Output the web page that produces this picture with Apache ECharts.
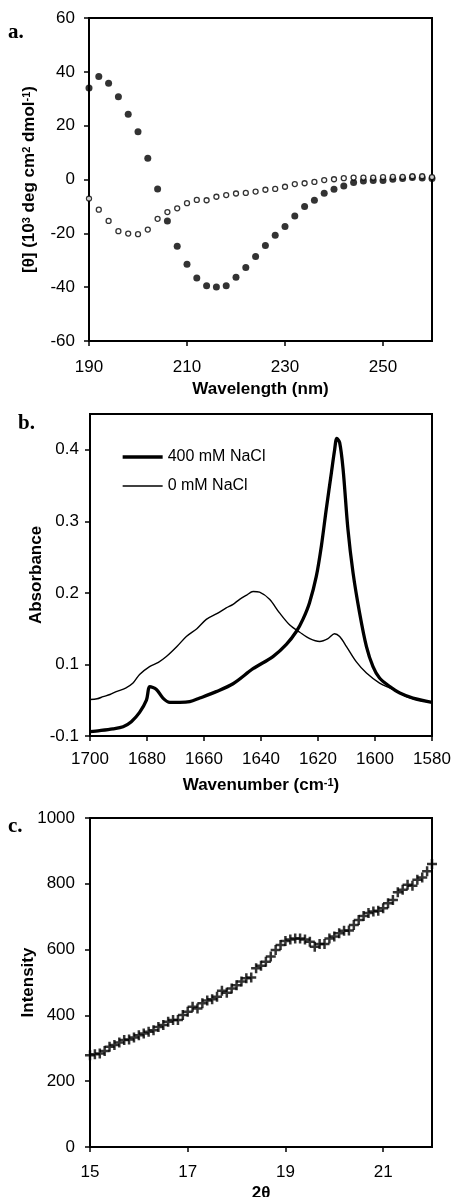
<!DOCTYPE html>
<html>
<head>
<meta charset="utf-8">
<script src="https://cdn.jsdelivr.net/npm/echarts@6/dist/echarts.min.js"></script>
<style>
  html, body { margin: 0; padding: 0; background: #fff; }
  #chart { width: 451px; height: 1197px; }
</style>
</head>
<body>
<div id="chart"></div>
<script>
// panel a: CD spectra (wavelength nm, [θ] x10^3)
const cdWave = [190, 192, 194, 196, 198, 200, 202, 204, 206, 208, 210, 212, 214, 216, 218, 220, 222, 224,
  226, 228, 230, 232, 234, 236, 238, 240, 242, 244, 246, 248, 250, 252, 254, 256, 258, 260];
const cdFilled = [34.0, 38.3, 35.8, 30.7, 24.2, 17.7, 7.9, -3.5, -15.4, -24.8, -31.5, -36.6, -39.5, -39.9, -39.5,
  -36.3, -32.7, -28.6, -24.5, -20.7, -17.5, -13.6, -10.0, -7.7, -5.1, -3.6, -2.4, -1.1, -0.6, -0.4, -0.4,
  0.1, 0.4, 0.7, 0.6, 0.4];
const cdOpen = [-7.1, -11.2, -15.4, -19.2, -20.1, -20.3, -18.6, -14.6, -12.1, -10.7, -8.8, -7.6, -7.7, -6.4, -5.8,
  -5.2, -5.0, -4.5, -3.8, -3.5, -2.7, -1.7, -1.4, -0.9, -0.2, 0.1, 0.5, 0.7, 0.7, 0.7, 0.9,
  1.0, 1.0, 1.2, 1.2, 0.9];
const cdXTicks = [190, 210, 230, 250];

// panel b: FTIR spectra
const wn400 = [1700, 1696.6, 1692, 1688.4, 1685.5, 1682.6, 1680.2, 1679, 1676.7, 1674.4, 1672, 1668.5, 1665,
  1661.5, 1655.7, 1649.8, 1642.8, 1635.8, 1631.1, 1627.6, 1625.3, 1623, 1620.6, 1618.8, 1617.1, 1615.3,
  1614.2, 1613.4, 1612.4, 1611.2, 1609.5, 1607.7, 1605.4, 1603, 1600.7, 1598.4, 1594.8, 1591.3, 1586.7, 1580];
const abs400 = [0.006, 0.0075, 0.010, 0.013, 0.020, 0.033, 0.050, 0.069, 0.065, 0.053, 0.047, 0.047, 0.048,
  0.053, 0.062, 0.073, 0.094, 0.111, 0.128, 0.146, 0.163, 0.186, 0.223, 0.266, 0.317, 0.368,
  0.399, 0.416, 0.410, 0.373, 0.289, 0.228, 0.172, 0.125, 0.097, 0.081, 0.069, 0.060, 0.053, 0.047];
const wn0 = [1700, 1697.5, 1695.4, 1693, 1690.8, 1687.5, 1684.9, 1682.6, 1679.1, 1676, 1673.2, 1669.5, 1666.2,
  1662.5, 1659.2, 1655.5, 1652.2, 1649.8, 1647.5, 1645, 1642.8, 1640.5, 1637, 1633.5, 1629.9, 1626.4,
  1622.9, 1619.4, 1616.5, 1614.2, 1612.4, 1610, 1606.6, 1603, 1598.4, 1593.7, 1589, 1584.3, 1580];
const abs0 = [0.051, 0.052, 0.055, 0.058, 0.062, 0.067, 0.074, 0.086, 0.097, 0.103, 0.111, 0.125, 0.139,
  0.150, 0.163, 0.171, 0.179, 0.184, 0.191, 0.197, 0.202, 0.201, 0.191, 0.172, 0.155, 0.145,
  0.136, 0.132, 0.136, 0.143, 0.139, 0.125, 0.104, 0.088, 0.074, 0.065, 0.055, 0.050, 0.047];
const absTickVals = [0, 0.1, 0.2, 0.3, 0.4];
const absTickLabels = ['-0.1', '0.1', '0.2', '0.3', '0.4'];

// panel c: XRD
const xrdTheta = [15.0, 15.1, 15.2, 15.3, 15.4, 15.5, 15.6, 15.7, 15.8, 15.9, 16.0, 16.1, 16.2, 16.3, 16.4,
  16.5, 16.6, 16.7, 16.8, 16.9, 17.0, 17.1, 17.2, 17.3, 17.4, 17.5, 17.6, 17.7, 17.8, 17.9, 18.0, 18.1,
  18.2, 18.3, 18.4, 18.5, 18.6, 18.7, 18.8, 18.9, 19.0, 19.1, 19.2, 19.3, 19.4, 19.5, 19.6, 19.7, 19.8,
  19.9, 20.0, 20.1, 20.2, 20.3, 20.4, 20.5, 20.6, 20.7, 20.8, 20.9, 21.0, 21.1, 21.2, 21.3, 21.4, 21.5,
  21.6, 21.7, 21.8, 21.9, 22.0];
const xrdInt = [279, 282, 284, 292, 305, 310, 318, 325, 327, 333, 340, 345, 350, 355, 365,
  371, 381, 386, 386, 401, 411, 426, 421, 437, 445, 449, 457, 475, 469, 482, 492, 503,
  513, 515, 543, 551, 563, 579, 599, 614, 626, 631, 634, 634, 631, 624, 609, 617, 617,
  634, 640, 650, 657, 658, 675, 690, 702, 711, 716, 718, 726, 741, 751, 774, 782, 797,
  794, 812, 819, 838, 860];
const xrdXTicks = [15, 17, 19, 21];

const FONT = '"Liberation Sans", Arial, sans-serif';
const SERIF = 'bold 21px "Liberation Serif", "Times New Roman", serif';
const BLACK = '#000';

const lineAxis = { show: true, onZero: false, lineStyle: { color: BLACK, width: 2 } };
const tick = (len) => ({ show: true, inside: false, length: len, lineStyle: { color: BLACK, width: 1.5 } });
// plain number labels, no thousands separator
const label = (margin) => ({ color: BLACK, fontSize: 17, fontFamily: FONT, margin: margin, formatter: (v) => String(v) });
const nameStyle = {
    color: BLACK, fontSize: 17, fontWeight: 'bold', fontFamily: FONT,
    rich: { sup: { fontSize: 11, fontWeight: 'bold', fontFamily: FONT, color: BLACK, verticalAlign: 'top', lineHeight: 10 } }
};
// outerBoundsMode none: keep the grids exactly where they are placed
const gridBox = { show: true, borderColor: BLACK, borderWidth: 2, backgroundColor: 'transparent', outerBoundsMode: 'none' };

const chart = echarts.init(document.getElementById('chart'), null, { renderer: 'canvas' });

const plus = 'path://M3.75,0h2.5v3.75h3.75v2.5h-3.75v3.75h-2.5v-3.75h-3.75v-2.5h3.75z';

const option = {
    animation: false,
    backgroundColor: '#fff',
    textStyle: { fontFamily: FONT },
    grid: [
        Object.assign({ left: 89, right: 19, top: 18, height: 323 }, gridBox),
        Object.assign({ left: 90, right: 19, top: 414, height: 322 }, gridBox),
        Object.assign({ left: 90, right: 19, top: 818, height: 329 }, gridBox)
    ],
    legend: {
        orient: 'vertical',
        left: 116,
        top: 444,
        itemWidth: 40,
        itemHeight: 14,
        itemGap: 13,
        itemStyle: { opacity: 0 },
        textStyle: { color: BLACK, fontSize: 16, fontFamily: FONT },
        data: [
            { name: '400 mM NaCl', lineStyle: { width: 3.3 } },
            { name: '0 mM NaCl', lineStyle: { width: 1.5 } }
        ]
    },
    xAxis: [
        {
            gridIndex: 0, type: 'value', min: 190, max: 260,
            name: 'Wavelength (nm)', nameLocation: 'middle', nameGap: 40, nameMoveOverlap: false, nameTextStyle: nameStyle,
            axisLine: lineAxis, axisTick: Object.assign(tick(5), { customValues: cdXTicks }),
            axisLabel: Object.assign(label(18), { customValues: cdXTicks }),
            splitLine: { show: false }
        },
        {
            gridIndex: 1, type: 'value', min: 1580, max: 1700, interval: 20, inverse: true,
            name: 'Wavenumber (cm{sup|-1})', nameLocation: 'middle', nameGap: 41, nameMoveOverlap: false, nameTextStyle: nameStyle,
            axisLine: lineAxis, axisTick: tick(5), axisLabel: label(15),
            splitLine: { show: false }
        },
        {
            gridIndex: 2, type: 'value', min: 15, max: 22,
            name: '2θ', nameLocation: 'middle', nameGap: 38, nameMoveOverlap: false, nameTextStyle: nameStyle,
            axisLine: lineAxis, axisTick: Object.assign(tick(5), { customValues: xrdXTicks }),
            axisLabel: Object.assign(label(17), { customValues: xrdXTicks }),
            splitLine: { show: false }
        }
    ],
    yAxis: [
        {
            gridIndex: 0, type: 'value', min: -60, max: 60, interval: 20,
            name: '[θ] (10{sup|3} deg cm{sup|2} dmol{sup|-1})', nameLocation: 'middle', nameGap: 51,
            nameMoveOverlap: false, nameTextStyle: nameStyle,
            axisLine: lineAxis, axisTick: tick(5), axisLabel: label(14),
            splitLine: { show: false }
        },
        {
            gridIndex: 1, type: 'value', min: 0, max: 0.45,
            name: 'Absorbance', nameLocation: 'middle', nameGap: 45, nameMoveOverlap: false, nameTextStyle: nameStyle,
            axisLine: lineAxis,
            axisTick: Object.assign(tick(5), { customValues: absTickVals }),
            axisLabel: Object.assign(label(11), {
                customValues: absTickVals,
                formatter: (v) => absTickLabels[absTickVals.findIndex((t) => Math.abs(t - v) < 1e-6)]
            }),
            splitLine: { show: false }
        },
        {
            gridIndex: 2, type: 'value', min: 0, max: 1000, interval: 200,
            name: 'Intensity', nameLocation: 'middle', nameGap: 53, nameMoveOverlap: false, nameTextStyle: nameStyle,
            axisLine: lineAxis, axisTick: tick(5), axisLabel: label(15),
            splitLine: { show: false }
        }
    ],
    graphic: [
        { type: 'text', left: 8, top: 22, style: { text: 'a.', font: SERIF, fill: BLACK } },
        { type: 'text', left: 18, top: 413, style: { text: 'b.', font: SERIF, fill: BLACK } },
        { type: 'text', left: 8, top: 816, style: { text: 'c.', font: SERIF, fill: BLACK } }
    ],
    series: [
        {
            type: 'scatter', xAxisIndex: 0, yAxisIndex: 0,
            symbol: 'circle', symbolSize: 7,
            itemStyle: { color: BLACK },
            data: cdWave.map((x, i) => [x, cdFilled[i]])
        },
        {
            type: 'scatter', xAxisIndex: 0, yAxisIndex: 0,
            symbol: 'circle', symbolSize: 5,
            itemStyle: { color: '#fff', borderColor: BLACK, borderWidth: 1.3 },
            data: cdWave.map((x, i) => [x, cdOpen[i]])
        },
        {
            name: '400 mM NaCl', type: 'line', xAxisIndex: 1, yAxisIndex: 1,
            showSymbol: false, symbol: 'none', smooth: 0.3,
            lineStyle: { color: BLACK, width: 3.3 },
            itemStyle: { color: BLACK },
            data: wn400.map((x, i) => [x, abs400[i]])
        },
        {
            name: '0 mM NaCl', type: 'line', xAxisIndex: 1, yAxisIndex: 1,
            showSymbol: false, symbol: 'none', smooth: 0.3,
            lineStyle: { color: BLACK, width: 1.4 },
            itemStyle: { color: BLACK },
            data: wn0.map((x, i) => [x, abs0[i]])
        },
        {
            type: 'scatter', xAxisIndex: 2, yAxisIndex: 2,
            symbol: plus, symbolSize: 10,
            itemStyle: { color: BLACK },
            data: xrdTheta.map((x, i) => [x, xrdInt[i]])
        }
    ]
};

chart.setOption(option);
window.addEventListener('resize', () => chart.resize());
</script>
</body>
</html>
